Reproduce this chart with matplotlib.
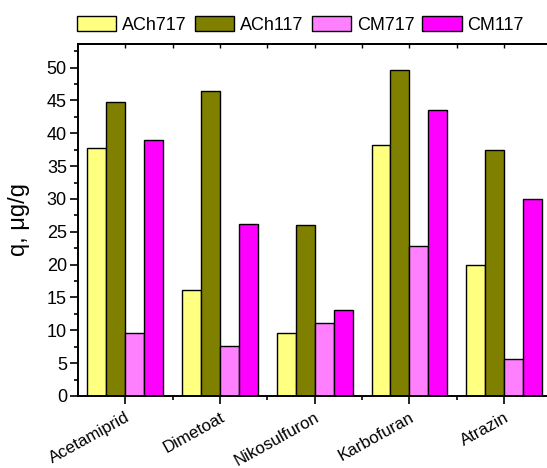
import matplotlib
matplotlib.use("Agg")
import matplotlib.pyplot as plt
import numpy as np
from matplotlib.ticker import MultipleLocator, FixedLocator

plt.rcParams['font.family'] = ['Liberation Sans', 'DejaVu Sans']

pesticides = ["Acetamiprid", "Dimetoat", "Nikosulfuron", "Karbofuran", "Atrazin"]
series_names = ["ACh717", "ACh117", "CM717", "CM117"]
ach717 = [37.7, 16.2, 9.6, 38.2, 19.9]
ach117 = [44.8, 46.4, 26.1, 49.6, 37.4]
cm717 = [9.6, 7.6, 11.1, 22.8, 5.6]
cm117 = [39.0, 26.2, 13.1, 43.6, 30.0]
colors = ["#FFFF80", "#808000", "#FF80FF", "#FF00FF"]

fig = plt.figure(figsize=(5.47, 4.68), dpi=100)
ax = fig.add_axes([78 / 547, 1 - 396 / 468, (551.4 - 78) / 547, (396 - 44) / 468])

x = np.arange(len(pesticides))
width = 0.2
offsets = [-0.3, -0.1, 0.1, 0.3]
for vals, name, col, off in zip([ach717, ach117, cm717, cm117], series_names, colors, offsets):
    ax.bar(x + off, vals, width=width, color=col, edgecolor="black", linewidth=1.0, label=name)

ax.set_xlim(-0.5, 4.5)
ax.set_ylim(0, 53.6)
ax.yaxis.set_major_locator(MultipleLocator(5))
ax.yaxis.set_minor_locator(MultipleLocator(2.5))
ax.xaxis.set_major_locator(FixedLocator(x))
ax.xaxis.set_minor_locator(FixedLocator(x[:-1] + 0.5))

ax.set_xticklabels(pesticides, rotation=29, ha="right", rotation_mode="anchor", fontsize=12.2)
ax.tick_params(axis="y", which="major", direction="out", length=6, width=1.2, labelsize=13, pad=2)
ax.tick_params(axis="y", which="minor", direction="out", length=3, width=1.2)
ax.tick_params(axis="x", which="major", direction="out", length=6, width=1.2, pad=4)
ax.tick_params(axis="x", which="minor", direction="out", length=3, width=1.2)

for side in ["left", "bottom", "top"]:
    ax.spines[side].set_linewidth(1.4)
ax.spines["right"].set_visible(False)

# mirrored ticks along the top spine
sec = ax.secondary_xaxis("top")
sec.set_xticks(x)
sec.xaxis.set_minor_locator(FixedLocator(x[:-1] + 0.5))
sec.tick_params(axis="x", which="major", direction="in", length=3, width=1.0, labeltop=False)
sec.tick_params(axis="x", which="minor", direction="in", length=3, width=1.0)
sec.spines["top"].set_linewidth(1.4)

ax.set_ylabel("q, μg/g", fontsize=17, labelpad=12)

handles, labels = ax.get_legend_handles_labels()
fig.legend(handles, labels, ncol=4, loc="center left", bbox_to_anchor=(77 / 547, 1 - 25 / 468),
           frameon=False, fontsize=13, handlelength=2.17, handleheight=0.9,
           handletextpad=0.33, columnspacing=0.45, borderaxespad=0, borderpad=0)

fig.savefig("out.png", dpi=100)
